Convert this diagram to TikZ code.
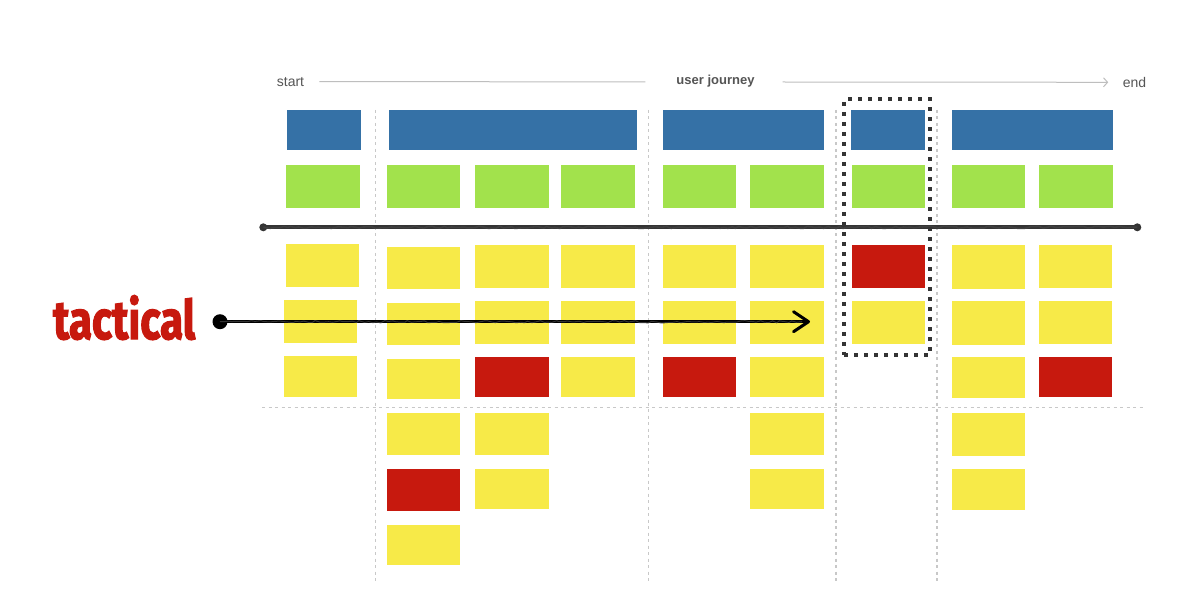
\documentclass[tikz,border=0pt]{standalone}
\usepackage{fontspec}
\setmainfont{Liberation Sans}
\newfontfamily\tacfont[FakeBold=2.5]{Fira Sans}
\usetikzlibrary{arrows.meta,decorations.pathmorphing}
\definecolor{cblue}{RGB}{53,113,166}
\definecolor{cgreen}{RGB}{162,226,76}
\definecolor{cyel}{RGB}{247,234,72}
\definecolor{cred}{RGB}{199,25,14}
\definecolor{sep}{RGB}{200,200,200}
\definecolor{txtgray}{RGB}{85,85,85}
\definecolor{jline}{RGB}{190,190,190}
\definecolor{thickc}{RGB}{52,52,52}
\newcommand\mycard[6]{\node[card,fill=#2,minimum width={#5-#3},minimum height={#6-#4}] (#1) at ({(#3+#5)/2},{(#4+#6)/2}) {};}
\begin{document}
\begin{tikzpicture}[x=1pt,y=-1pt,
  card/.style={rectangle,inner sep=0pt,outer sep=0pt,draw=none},
  sepline/.style={draw=sep,line width=1.1pt,dash pattern=on 3pt off 3.5pt},
  lbl/.style={text=txtgray,font=\fontsize{14}{16}\selectfont,inner sep=0pt},
  journey/.style={draw=jline,line width=1pt},
  thickline/.style={draw=thickc,line width=4.2pt},
  texture/.style={line width=1.6pt,decorate,decoration={random steps,segment length=4pt,amplitude=1.1pt}},
  enddot/.style={circle,fill=thickc,inner sep=0pt,minimum size=8pt},
  dotbox/.style={draw=thickc,line width=4pt,dash pattern=on 4pt off 6pt,rectangle,inner sep=0pt}]
\useasboundingbox (0,0) rectangle (1200,604);
\fill[white] (0,0) rectangle (1200,604);

% separators
\draw[sepline] (375.5,110) -- (375.5,581);
\draw[sepline] (648.5,110) -- (648.5,581);
\draw[sepline] (836,110) -- (836,581);
\draw[sepline] (937,110) -- (937,581);
\draw[sepline] (262,407.3) -- (1143,407.3);

% journey header
\node[lbl,anchor=west] (start) at (276.7,82.3) {start};
\node[lbl,anchor=center,font=\bfseries\fontsize{13}{15}\selectfont] (uj) at (715.5,80.8) {user journey};
\node[lbl,anchor=west] (endl) at (1122.7,82.3) {end};
\draw[journey] ([xshift=15pt,yshift=0.6pt]start.east) -- ([xshift=-31pt,yshift=-1pt]uj.west);
\draw[journey,-{Straight Barb[length=4pt,width=9pt]}] ([xshift=28pt,yshift=-1.2pt]uj.east) -- ([xshift=-14.5pt]endl.west);

% blue
\mycard{b1}{cblue}{287}{109.7}{361.3}{150}
\mycard{b2}{cblue}{388.7}{109.7}{637}{150}
\mycard{b3}{cblue}{662.7}{109.7}{823.7}{150}
\mycard{b4}{cblue}{851}{109.7}{925}{150}
\mycard{b5}{cblue}{951.7}{109.7}{1112.7}{150}

% green
\mycard{g1}{cgreen}{286.3}{165}{359.7}{208.3}
\mycard{g2a}{cgreen}{387}{165}{460.3}{208.3}
\mycard{g2b}{cgreen}{475.3}{165}{548.7}{208.3}
\mycard{g2c}{cgreen}{561}{165}{634.7}{208.3}
\mycard{g3a}{cgreen}{662.7}{165}{736}{208.3}
\mycard{g3b}{cgreen}{750}{165}{823.7}{208.3}
\mycard{g4}{cgreen}{852}{165}{925}{208.3}
\mycard{g5a}{cgreen}{951.7}{165}{1025}{208.3}
\mycard{g5b}{cgreen}{1039}{165}{1112.7}{208.3}

% column 1
\mycard{c1r1}{cyel}{285.7}{244}{359}{286.7}
\mycard{c1r2}{cyel}{284}{300}{356.7}{342.7}
\mycard{c1r3}{cyel}{284}{356}{357}{396.7}
% column 2a
\mycard{c2ar1}{cyel}{387}{246.7}{460.3}{289.3}
\mycard{c2ar2}{cyel}{387}{302.7}{460.3}{345.3}
\mycard{c2ar3}{cyel}{387}{358.7}{460.3}{398.7}
\mycard{c2ar4}{cyel}{387}{412.7}{460.3}{455}
\mycard{c2ar5}{cred}{387}{468.7}{460.3}{511}
\mycard{c2ar6}{cyel}{387}{524.7}{460.3}{564.7}
% column 2b
\mycard{c2br1}{cyel}{475.3}{245}{548.7}{287.7}
\mycard{c2br2}{cyel}{475.3}{301}{548.7}{343.7}
\mycard{c2br3}{cred}{475.3}{357}{548.7}{397.3}
\mycard{c2br4}{cyel}{475.3}{412.7}{548.7}{455}
\mycard{c2br5}{cyel}{475.3}{468.7}{548.7}{508.7}
% column 2c
\mycard{c2cr1}{cyel}{561}{245}{634.7}{287.7}
\mycard{c2cr2}{cyel}{561}{301}{634.7}{343.7}
\mycard{c2cr3}{cyel}{561}{357}{634.7}{397.3}
% column 3a
\mycard{c3ar1}{cyel}{662.7}{245}{736}{287.7}
\mycard{c3ar2}{cyel}{662.7}{301}{736}{343.7}
\mycard{c3ar3}{cred}{662.7}{357}{736}{397.3}
% column 3b
\mycard{c3br1}{cyel}{750}{245}{823.7}{287.7}
\mycard{c3br2}{cyel}{750}{301}{823.7}{343.7}
\mycard{c3br3}{cyel}{750}{357}{823.7}{397.3}
\mycard{c3br4}{cyel}{750}{412.7}{823.7}{455}
\mycard{c3br5}{cyel}{750}{468.7}{823.7}{508.7}
% column 4
\mycard{c4r1}{cred}{852}{245}{925.3}{287.7}
\mycard{c4r2}{cyel}{852}{301}{925.3}{343.7}
% column 5a
\mycard{c5ar1}{cyel}{951.7}{245}{1025}{288.7}
\mycard{c5ar2}{cyel}{951.7}{301}{1025}{344.7}
\mycard{c5ar3}{cyel}{951.7}{357}{1025}{398.3}
\mycard{c5ar4}{cyel}{951.7}{413.3}{1025}{456}
\mycard{c5ar5}{cyel}{951.7}{469.3}{1025}{509.7}
% column 5b
\mycard{c5br1}{cyel}{1039}{245}{1112.3}{287.7}
\mycard{c5br2}{cyel}{1039}{301}{1112.3}{344}
\mycard{c5br3}{cred}{1039}{357}{1112.3}{397.3}

% thick divider
\node[enddot] (tl) at (263.3,227.3) {};
\node[enddot] (tr) at (1137.3,227.3) {};
\draw[thickline] (tl.center) -- (tr.center);
\draw[texture,draw=black!75] (tl.center) -- (tr.center);

% tactical
\node[inner sep=0pt,anchor=base,text=cred] (tac) at (124.2,339) {\tacfont\bfseries\fontsize{54}{60}\selectfont\scalebox{0.78}[1]{tactical}};
\node[circle,fill=black,inner sep=0pt,minimum size=15pt] (tdot) at (220,321.7) {};
\coordinate (ttip) at (810,321.7);
\draw[line width=2.8pt,-{Straight Barb[length=15pt,width=20pt,line width=3pt,round]}] (tdot.center) -- (ttip);
\draw[texture,draw=black!80,line width=1pt] (tdot.center) -- ([xshift=-8pt]ttip);

% focus box
\node[dotbox,minimum width=85.7pt,minimum height=256pt] (focus) at (887.15,227.3) {};
\end{tikzpicture}
\end{document}
